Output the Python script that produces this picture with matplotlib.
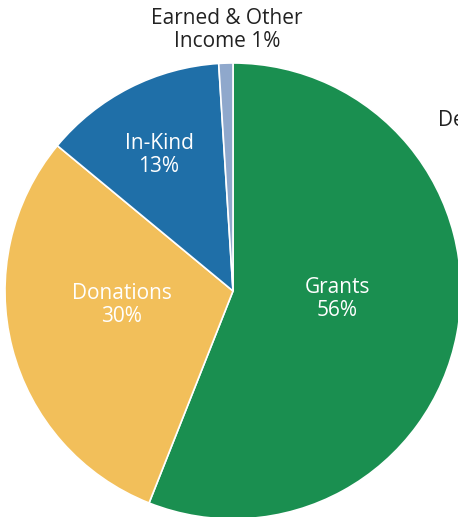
import matplotlib.pyplot as plt

labels = ["Grants\n56%", "Donations\n30%", "In-Kind\n13%", "Earned & Other\nIncome 1%"]
values = [56, 30, 13, 1]
colors = ["#1a8f50", "#f2bf5a", "#1f6fa8", "#8fa8cc"]

fig = plt.figure(figsize=(4.58, 5.17), dpi=100)
ax = fig.add_axes([0, 0, 1, 1])

ax.pie(values, colors=colors, startangle=90, counterclock=False,
       center=(233, 226), radius=228, frame=True,
       wedgeprops=dict(edgecolor="white", linewidth=1.2))
ax.set_xlim(0, 458)
ax.set_ylim(0, 517)
ax.axis("off")

font = dict(family="Open Sans", fontsize=15, ha="center", va="center",
            linespacing=1.15)
ax.text(337, 517 - 299, labels[0], color="white", **font)
ax.text(122, 517 - 305, labels[1], color="white", **font)
ax.text(159, 517 - 155, labels[2], color="white", **font)
ax.text(227, 517 - 30, labels[3], color="#222222", **font)
# label of a slice outside the view, cut off at the right edge as in the original
ax.text(438, 517 - 121, "De", color="#222222", family="Open Sans", fontsize=15,
        ha="left", va="center")

fig.savefig("out.png", dpi=100)
